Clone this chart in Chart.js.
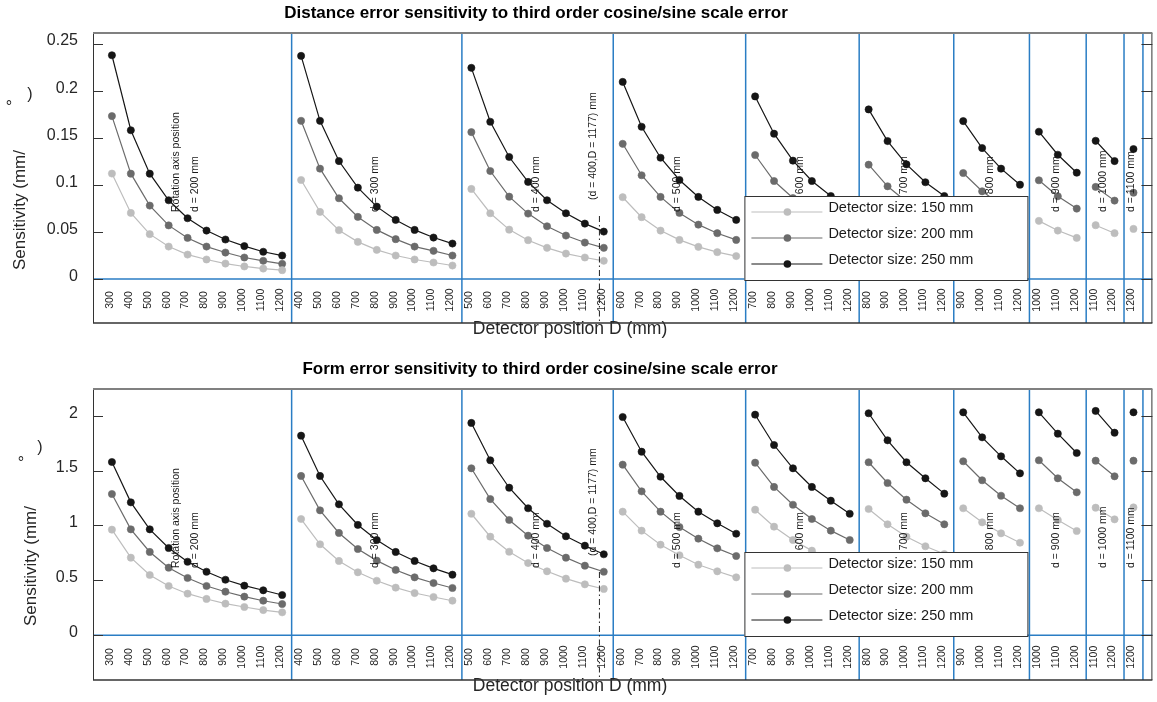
<!DOCTYPE html>
<html>
<head>
<meta charset="utf-8">
<script src="https://cdn.jsdelivr.net/npm/chart.js@4.4.1/dist/chart.umd.min.js"></script>
<style>
  html, body { margin: 0; padding: 0; background: #fff; }
  #wrap { position: relative; width: 1157px; height: 702px; }
  canvas { position: absolute; left: 0; }
</style>
</head>
<body>
<div id="wrap">
  <canvas id="distChart" width="1157" height="356" style="top:0"></canvas>
  <canvas id="formChart" width="1157" height="346" style="top:356px"></canvas>
</div>
<script>
// rotation axis position d (mm), one panel each
const dValues = [200, 300, 400, 500, 600, 700, 800, 900, 1000, 1100];
// detector positions D (mm); panel g uses positionTicks.slice(g)
const positionTicks = [300, 400, 500, 600, 700, 800, 900, 1000, 1100, 1200];
// D at which each "d = ... mm" note sits
const noteD = [740, 790, 840, 890, 940, 990, 1040, 1090, 1140, 1190];
const detectorSizes = [150, 200, 250];
const markerD = 1177; // dash-dot line in the d = 400 panel

// Distance error sensitivity, one inner array per d panel
const distance150 = [
  [0.112, 0.0702, 0.0477, 0.0345, 0.026, 0.0208, 0.0165, 0.0134, 0.0112, 0.0095],
  [0.1052, 0.0713, 0.0519, 0.0395, 0.031, 0.025, 0.0208, 0.0176, 0.0144],
  [0.0957, 0.0699, 0.0525, 0.0413, 0.0332, 0.0271, 0.0229, 0.0194],
  [0.0869, 0.0657, 0.0515, 0.0416, 0.0342, 0.0286, 0.0244],
  [0.079, 0.062, 0.05, 0.041, 0.034, 0.029],
  [0.072, 0.058, 0.048, 0.04, 0.034],
  [0.066, 0.055, 0.046, 0.039],
  [0.0618, 0.0515, 0.0437],
  [0.0572, 0.0487],
  [0.0533]
];
const distance200 = [
  [0.173, 0.1119, 0.078, 0.057, 0.0437, 0.0345, 0.0282, 0.0229, 0.0194, 0.0162],
  [0.168, 0.1172, 0.0858, 0.066, 0.0522, 0.0424, 0.0345, 0.03, 0.025],
  [0.156, 0.1147, 0.0875, 0.0695, 0.0561, 0.0462, 0.0388, 0.0332],
  [0.1436, 0.1102, 0.0872, 0.0702, 0.0578, 0.0487, 0.0416],
  [0.1317, 0.1041, 0.086, 0.071, 0.06, 0.051],
  [0.1214, 0.0985, 0.082, 0.069, 0.059],
  [0.1126, 0.0932, 0.079, 0.067],
  [0.1049, 0.0879, 0.0748],
  [0.0978, 0.0833],
  [0.0917]
];
const distance250 = [
  [0.2376, 0.158, 0.1119, 0.0837, 0.0646, 0.0515, 0.042, 0.035, 0.029, 0.025],
  [0.2369, 0.168, 0.1253, 0.097, 0.0769, 0.0628, 0.0522, 0.0441, 0.0377],
  [0.2242, 0.167, 0.1296, 0.1031, 0.0837, 0.0699, 0.0589, 0.0504],
  [0.2093, 0.1617, 0.1288, 0.1052, 0.0872, 0.0734, 0.0628],
  [0.1939, 0.1543, 0.1257, 0.1041, 0.0882, 0.076],
  [0.1801, 0.1465, 0.1218, 0.1028, 0.0882],
  [0.1677, 0.1391, 0.1172, 0.1002],
  [0.1564, 0.132, 0.1129],
  [0.1468, 0.1253],
  [0.138]
];

// Form error sensitivity
const form150 = [
  [0.962, 0.707, 0.549, 0.449, 0.379, 0.331, 0.288, 0.258, 0.23, 0.209],
  [1.059, 0.829, 0.677, 0.574, 0.497, 0.434, 0.385, 0.349, 0.315],
  [1.107, 0.898, 0.761, 0.658, 0.583, 0.516, 0.464, 0.422],
  [1.126, 0.953, 0.825, 0.729, 0.643, 0.583, 0.528],
  [1.144, 0.989, 0.868, 0.771, 0.695, 0.634],
  [1.15, 1.011, 0.898, 0.811, 0.74],
  [1.157, 1.029, 0.929, 0.843],
  [1.157, 1.05, 0.95],
  [1.162, 1.056],
  [1.165]
];
const form200 = [
  [1.287, 0.965, 0.759, 0.616, 0.522, 0.449, 0.397, 0.352, 0.315, 0.285],
  [1.451, 1.138, 0.932, 0.786, 0.68, 0.595, 0.528, 0.476, 0.431],
  [1.521, 1.241, 1.05, 0.907, 0.795, 0.707, 0.634, 0.579],
  [1.554, 1.311, 1.126, 0.986, 0.88, 0.792, 0.722],
  [1.572, 1.351, 1.189, 1.059, 0.953, 0.868],
  [1.576, 1.387, 1.235, 1.111, 1.011],
  [1.585, 1.412, 1.271, 1.157],
  [1.594, 1.43, 1.302],
  [1.59, 1.448],
  [1.59]
];
const form250 = [
  [1.578, 1.211, 0.965, 0.795, 0.67, 0.579, 0.506, 0.452, 0.41, 0.367],
  [1.818, 1.451, 1.193, 1.005, 0.868, 0.759, 0.677, 0.61, 0.552],
  [1.934, 1.594, 1.344, 1.157, 1.016, 0.902, 0.816, 0.738],
  [1.988, 1.672, 1.444, 1.269, 1.126, 1.02, 0.925],
  [2.009, 1.733, 1.521, 1.351, 1.226, 1.107],
  [2.022, 1.776, 1.576, 1.43, 1.29],
  [2.031, 1.803, 1.63, 1.475],
  [2.031, 1.836, 1.66],
  [2.043, 1.845],
  [2.031]
];

const FONT = '"Liberation Sans", Arial, Helvetica, sans-serif';
const BLUE = '#2a7dc4';
const seriesColors = ['#bdbdbd', '#6b6b6b', '#161616'];

// running index of the first point of every panel
const groupStart = [];
let count = 0;
dValues.forEach((d, g) => { groupStart.push(count); count += positionTicks.length - g; });

function indexOf(g, D) {
  return groupStart[g] + (D - positionTicks[g]) / 100;
}

function buildData(groups) {
  const pts = [];
  groups.forEach((vals, g) => {
    vals.forEach((v, i) => pts.push({ x: groupStart[g] + i, y: v }));
    pts.push({ x: groupStart[g] + vals.length - 0.5, y: null });
  });
  return pts;
}

function vtext(ctx, str, x, y, align, baseline) {
  ctx.save();
  ctx.translate(x, y);
  ctx.rotate(-Math.PI / 2);
  ctx.textAlign = align;
  ctx.textBaseline = baseline;
  ctx.fillText(str, 0, 0);
  ctx.restore();
}

function line(ctx, x1, y1, x2, y2) {
  ctx.beginPath();
  ctx.moveTo(x1, y1);
  ctx.lineTo(x2, y2);
  ctx.stroke();
}

const decor = {
  id: 'decor',
  beforeDatasetsDraw(chart, args, o) {
    const { ctx, chartArea: a, scales: { x, y } } = chart;
    ctx.save();
    ctx.strokeStyle = BLUE;
    ctx.lineWidth = 1.5;
    dValues.forEach((d, g) => {
      const px = x.getPixelForValue(groupStart[g] + positionTicks.length - g - 0.5);
      line(ctx, px, a.top, px, a.bottom);
    });
    const y0 = y.getPixelForValue(0);
    line(ctx, a.left, y0, a.right, y0);
    ctx.restore();
  },
  afterDatasetsDraw(chart, args, o) {
    const { ctx, chartArea: a, scales: { x, y } } = chart;
    ctx.save();
    ctx.fillStyle = '#1a1a1a';

    // panel notes
    ctx.font = '10.5px ' + FONT;
    dValues.forEach((d, g) => {
      const px = x.getPixelForValue(indexOf(g, noteD[g]));
      vtext(ctx, 'd = ' + d + ' mm', px, a.top + 179, 'left', 'middle');
      if (g === 0) vtext(ctx, 'Rotation axis position', px - 19, a.top + 179, 'left', 'middle');
    });
    const mx = x.getPixelForValue(indexOf(2, markerD));
    vtext(ctx, '(d = 400,D = 1177) mm', mx - 6.5, a.top + 167, 'left', 'middle');
    ctx.strokeStyle = '#222';
    ctx.lineWidth = 1;
    ctx.setLineDash([6, 3, 1.5, 3]);
    line(ctx, mx, a.top + 183, mx, a.bottom);
    ctx.setLineDash([]);

    // detector position labels inside the panel, below zero
    ctx.fillStyle = '#262626';
    ctx.font = '10.5px ' + FONT;
    dValues.forEach((d, g) => {
      positionTicks.slice(g).forEach((D, i) => {
        const px = x.getPixelForValue(groupStart[g] + i);
        vtext(ctx, String(D), px - 2, a.bottom - 23, 'center', 'middle');
      });
    });

    // legend
    const lx = a.right - 408, ly = a.top + 163;
    ctx.fillStyle = '#fff';
    ctx.fillRect(lx, ly, 283, 84);
    ctx.strokeStyle = '#333';
    ctx.lineWidth = 1;
    ctx.strokeRect(lx + 0.5, ly + 0.5, 283, 84);
    ctx.font = '14.5px ' + FONT;
    chart.data.datasets.forEach((ds, k) => {
      const ry = ly + 16 + k * 26;
      ctx.strokeStyle = ds.borderColor;
      ctx.lineWidth = 1.2;
      line(ctx, lx + 7, ry, lx + 78, ry);
      ctx.fillStyle = ds.borderColor;
      ctx.beginPath();
      ctx.arc(lx + 43, ry, 3.8, 0, Math.PI * 2);
      ctx.fill();
      ctx.fillStyle = '#1a1a1a';
      ctx.textAlign = 'left';
      ctx.textBaseline = 'middle';
      ctx.fillText(ds.label, lx + 84, ry - 4.5);
    });

    // axis titles
    ctx.fillStyle = '#262626';
    ctx.font = '17px ' + FONT;
    vtext(ctx, 'Sensitivity (mm/', o.yTitleX, a.top + 237, 'left', 'alphabetic');
    ctx.textAlign = 'center';
    ctx.textBaseline = 'alphabetic';
    ctx.font = '16px ' + FONT;
    ctx.fillText('°', o.degX, a.top + 79);
    ctx.textBaseline = 'middle';
    ctx.fillText(')', o.parenX, a.top + o.parenDy);
    ctx.font = '17.5px ' + FONT;
    ctx.fillText('Detector position D (mm)', 570, a.bottom + 6.5);
    ctx.fillStyle = '#000';
    ctx.font = 'bold 17px ' + FONT;
    ctx.fillText(o.title, o.titleX, 13);

    // frame and inward ticks
    ctx.strokeStyle = '#333';
    ctx.lineWidth = 1;
    y.ticks.forEach(t => {
      if (t.value < -1e-9) return;
      const py = Math.round(y.getPixelForValue(t.value)) + 0.5;
      line(ctx, a.left, py, a.left + 10, py);
      line(ctx, a.right - 11, py, a.right, py);
    });
    line(ctx, a.left + 0.5, a.top, a.left + 0.5, a.bottom);
    line(ctx, a.right - 0.5, a.top, a.right - 0.5, a.bottom);
    ctx.lineWidth = 1.3;
    line(ctx, a.left, a.bottom, a.right, a.bottom);
    ctx.strokeStyle = '#808080';
    ctx.lineWidth = 2;
    line(ctx, a.left, a.top, a.right, a.top);
    ctx.restore();
  }
};

function makeChart(id, series, cfg) {
  return new Chart(document.getElementById(id), {
    type: 'line',
    data: {
      datasets: detectorSizes.map((s, k) => ({
        label: 'Detector size: ' + s + ' mm',
        data: buildData(series[k]),
        borderColor: seriesColors[k],
        backgroundColor: seriesColors[k],
        pointBackgroundColor: seriesColors[k],
        pointBorderColor: seriesColors[k],
        pointRadius: 3.6,
        pointBorderWidth: 0.6,
        borderWidth: 1.2,
        tension: 0
      }))
    },
    options: {
      responsive: false,
      animation: false,
      events: [],
      layout: { padding: { top: 33, bottom: cfg.padBottom, left: 0, right: 4 } },
      scales: {
        x: { type: 'linear', min: -1, max: 55, display: false },
        y: {
          type: 'linear',
          min: cfg.yMin,
          max: cfg.yMax,
          afterFit: s => { s.width = 93; },
          grid: { display: false, drawTicks: false },
          border: { display: false },
          ticks: {
            stepSize: cfg.step,
            includeBounds: false,
            padding: 15,
            color: '#262626',
            font: { family: FONT, size: 16, lineHeight: 0.32 },
            callback: v => v < -1e-9 ? '' : [String(+v.toFixed(2)), '']
          }
        }
      },
      plugins: {
        legend: { display: false },
        tooltip: { enabled: false },
        decor: cfg
      }
    },
    plugins: [decor]
  });
}

makeChart('distChart', [distance150, distance200, distance250], {
  title: 'Distance error sensitivity to third order cosine/sine scale error',
  titleX: 536, yMin: -0.0466, yMax: 0.2612, step: 0.05, padBottom: 33,
  yTitleX: 25, degX: 9, parenX: 30, parenDy: 62
});
makeChart('formChart', [form150, form200, form250], {
  title: 'Form error sensitivity to third order cosine/sine scale error',
  titleX: 540, yMin: -0.407, yMax: 2.243, step: 0.5, padBottom: 22,
  yTitleX: 36, degX: 21, parenX: 40, parenDy: 59
});
</script>
</body>
</html>
